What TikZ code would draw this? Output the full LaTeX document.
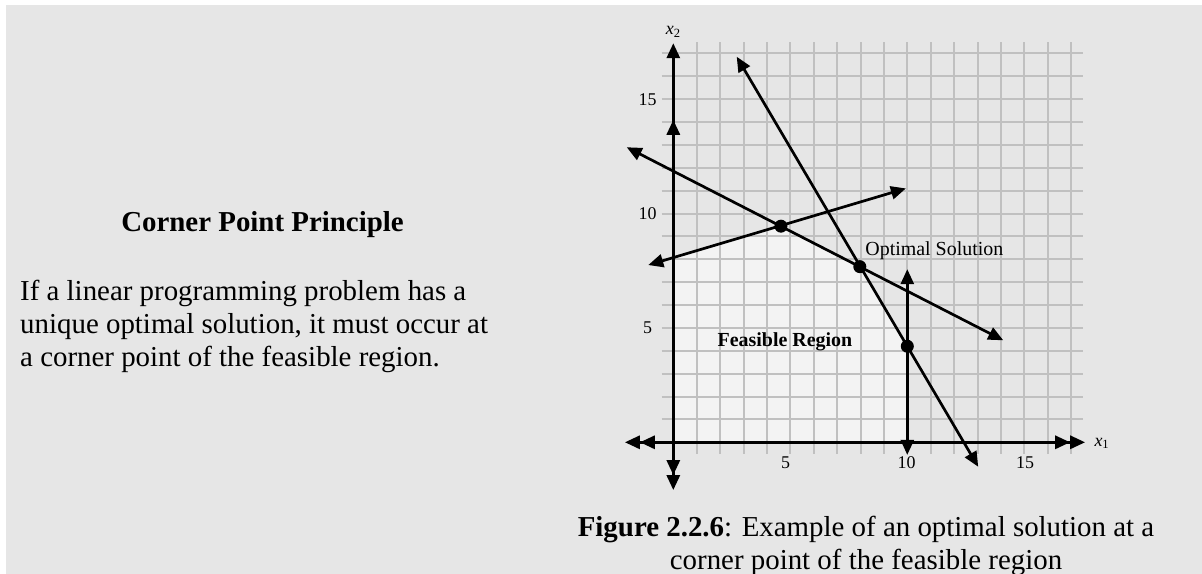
\documentclass[tikz,border=0pt]{standalone}
\usepackage{fontspec}
\setmainfont{Liberation Serif}
\usetikzlibrary{arrows.meta,positioning}
\definecolor{panelGray}{RGB}{230,230,230}
\definecolor{regionGray}{RGB}{243,243,243}
\definecolor{gridGray}{RGB}{192,192,192}

\begin{document}
\begin{tikzpicture}[x=1bp,y=1bp,
  >={Triangle[length=15bp,width=13bp]},
  gridline/.style={gridGray,line width=2bp},
  conline/.style={line width=2.7bp},
  axisline/.style={line width=3bp},
  cornerdot/.style={circle,fill=black,inner sep=0pt,minimum size=13bp},
  ticklab/.style={font=\fontsize{18}{20}\selectfont},
  plotlab/.style={font=\fontsize{20}{22}\selectfont},
  bodytext/.style={font=\fontsize{29}{33}\selectfont}
]
  \fill[white] (0,0) rectangle (1202,574);
  \fill[panelGray] (6,0) rectangle (1202,569);
  \useasboundingbox (0,0) rectangle (1202,574);

  \node[bodytext] (title) at (262.5,349) {\textbf{Corner Point Principle}};
  \node[bodytext,align=left,anchor=north west,inner sep=0pt] (principle) at (20,294)
    {If a linear programming problem has a\\
     unique optimal solution, it must occur at\\
     a corner point of the feasible region.};
  \node[bodytext,align=center,anchor=north,inner sep=0pt] (caption) at (866,58)
    {\textbf{Figure 2.2.6}: Example of an optimal solution at a\\
     corner point of the feasible region};

  \begin{scope}[shift={(673.3,131.7)},x=23.4bp,y=22.87bp]
    \coordinate (o) at (0,0);
    \coordinate (cYax) at (0,8.08);
    \coordinate (cTop) at (4.6,9.45);
    \coordinate (cOpt) at (7.97,7.68);
    \coordinate (cLow) at (10,4.2);
    \coordinate (cXax) at (10,0);

    \fill[regionGray] (o) -- (cYax) -- (cTop) -- (cOpt) -- (cLow) -- (cXax) -- cycle;

    \foreach \k in {1,...,17}{
      \draw[gridline] (\k,-0.5) -- (\k,17.5);
      \draw[gridline] (-0.5,\k) -- (17.5,\k);
    }

    \coordinate (aTop) at (2.71,16.86);
    \coordinate (aBot) at (13.03,-1.07);
    \coordinate (bLeft) at (-1.99,12.9);
    \coordinate (bRight) at (14.1,4.46);
    \coordinate (cLeft) at (-1.07,7.75);
    \coordinate (cRight) at (9.94,11.1);
    \coordinate (dBot) at (10,-0.55);
    \coordinate (dTop) at (10,7.57);

    \draw[conline,<->] (aTop) -- (aBot);
    \draw[conline,<->] (bLeft) -- (bRight);
    \draw[conline,<->] (cLeft) -- (cRight);
    \draw[conline,<->] (dBot) -- (dTop);

    \coordinate (xLeft) at (-2.07,0);
    \coordinate (xRight) at (17.6,0);
    \coordinate (yBot) at (0,-2.09);
    \coordinate (yTop) at (0,17.45);
    \coordinate (yMid) at (0,14.1);
    \draw[axisline,<<->>] (xLeft) -- (xRight);
    \draw[axisline,<<->] (yBot) -- (yTop);
    \draw[axisline,->] (0,12.5) -- (yMid);

    \node[cornerdot] (pTop) at (cTop) {};
    \node[cornerdot] (pOpt) at (cOpt) {};
    \node[cornerdot] (pLow) at (cLow) {};

    \node[ticklab] (xt5) at (4.8,-0.9) {5};
    \node[ticklab] (xt10) at (9.97,-0.9) {10};
    \node[ticklab] (xt15) at (15.03,-0.9) {15};
    \node[ticklab] (yt5) at (-1.1,5) {5};
    \node[ticklab] (yt10) at (-1.1,10) {10};
    \node[ticklab] (yt15) at (-1.1,15) {15};
    \node[ticklab] (x2lab) at (0,17.94) {\textit{x}\textsubscript{2}};
    \node[ticklab,anchor=west] (x1lab) at (17.85,-0.05) {\textit{x}\textsubscript{1}};

    \node[plotlab,anchor=west] (optlab) at (8.06,8.36) {Optimal Solution};
    \node[plotlab] (feaslab) at (4.77,4.39) {\textbf{Feasible Region}};
  \end{scope}
\end{tikzpicture}
\end{document}
